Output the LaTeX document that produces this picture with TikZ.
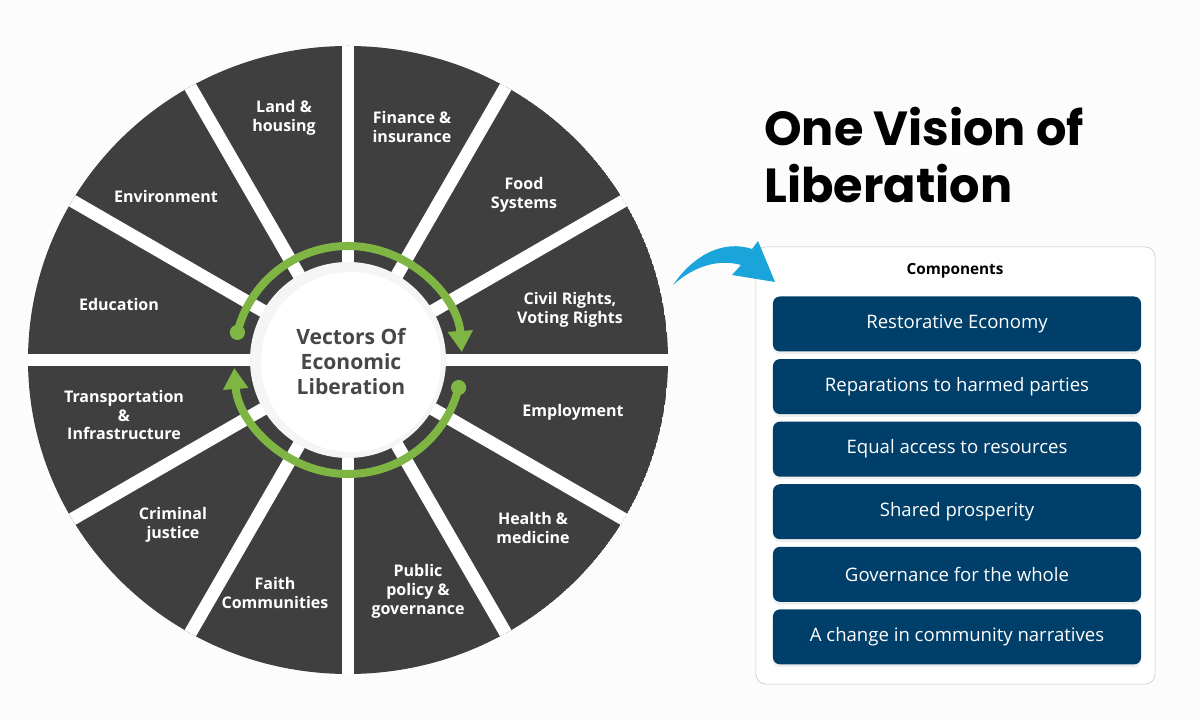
\documentclass[tikz,border=0pt]{standalone}
\usepackage{fontspec}
\setmainfont{Open Sans}
\newfontfamily\headfont{Poppins}
\usepackage{xcolor}
\usepackage{tikz}
\usetikzlibrary{positioning,calc,arrows.meta,shadows}

\definecolor{wheelgrey}{HTML}{3F3F3F}
\definecolor{ringgreen}{HTML}{7FB543}
\definecolor{navy}{HTML}{003F69}
\definecolor{skyblue}{HTML}{19A4DA}
\definecolor{hubtext}{HTML}{474747}

\tikzset{
  spoke/.style={text=white, align=center, font=\bfseries\fontsize{11.4}{13.5}\selectfont},
  comp/.style={fill=navy, text=white, rounded corners=5pt, minimum width=9.2cm, minimum height=1.375cm,
    font=\fontsize{13.2}{15}\selectfont, drop shadow={opacity=0.12, shadow xshift=0pt, shadow yshift=-2pt}},
  loop/.style={ringgreen, line width=5.7pt},
  dot/.style={circle, fill=ringgreen, inner sep=0pt, minimum size=0.38cm},
}

\begin{document}
\begin{tikzpicture}[x=0.025cm,y=0.025cm]
    \fill[white!98!gray] (0,0) rectangle (1200,720);
    \useasboundingbox (0,0) rectangle (1200,720);

    % the wheel
    \coordinate (c) at (348,360);
    \begin{scope}
        \clip (c) ellipse [x radius=320, y radius=314];
        \fill[wheelgrey] (c) ellipse [x radius=320, y radius=314];
        \foreach \a in {0,30,...,330} \draw[white, line width=9.2pt] (c) -- ++(\a:340);
    \end{scope}
    \fill[gray!8] (c) circle (98); % halo
    \node[circle, fill=white, minimum size=4.5cm, align=center, text=hubtext,
          font=\bfseries\fontsize{15}{17.8}\selectfont] (hub) at (351,358) {Vectors Of\\Economic\\Liberation};

    % green loop
    \node[dot] (dotA) at ($(c)+(166:114)$) {};
    \node[dot] (dotB) at ($(c)+(-14:114)$) {};
    \draw[loop, -{Triangle[width=17pt,length=15pt]}] (dotA.center) arc[start angle=166, end angle=4, radius=114];
    \draw[loop, -{Triangle[width=17pt,length=15pt]}] (dotB.center) arc[start angle=-14, end angle=-176, radius=114];

    % segment labels
    \node[spoke] (land) at (284,602) {Land \&\\housing};
    \node[spoke] (finance) at (412,593) {Finance \&\\insurance};
    \node[spoke] (food) at (524,525) {Food\\Systems};
    \node[spoke] (rights) at (570,410) {Civil Rights,\\Voting Rights};
    \node[spoke] (employ) at (573,308) {Employment};
    \node[spoke] (health) at (533,192) {Health \&\\medicine};
    \node[spoke] (policy) at (418,129) {Public\\policy \&\\governance};
    \node[spoke] (faith) at (275,127) {Faith\\Communities};
    \node[spoke] (justice) at (173,195) {Criminal\\justice};
    \node[spoke] (transport) at (124,305) {Transportation\\\&\\Infrastructure};
    \node[spoke] (educ) at (119,416) {Education};
    \node[spoke] (environ) at (166,523) {Environment};

    % title
    \node[anchor=north west, align=left, inner sep=0pt,
          font=\headfont\bfseries\fontsize{34}{40.5}\selectfont] (title) at (764,613) {One Vision of\\Liberation};

    % components panel
    \node[draw=gray!45, fill=white, rounded corners=7pt, minimum width=9.975cm, minimum height=10.925cm] (panel) at (955.5,254.5) {};
    \node[font=\bfseries\fontsize{10.9}{12}\selectfont] (head) at (955,449) {Components};
    \node[comp] (restore) at (957,396) {Restorative Economy};
    \node[comp, below=0.175cm of restore] (repair) {Reparations to harmed parties};
    \node[comp, below=0.175cm of repair] (access) {Equal access to resources};
    \node[comp, below=0.175cm of access] (prosper) {Shared prosperity};
    \node[comp, below=0.175cm of prosper] (govern) {Governance for the whole};
    \node[comp, below=0.175cm of govern] (narrate) {A change in community narratives};

    % blue arrow to the panel
    \fill[skyblue] (673,435) .. controls (695,467) and (725,480) .. (752,471) -- (758,479) -- (775,438)
        -- (732,445) -- (741,455) .. controls (720,461) and (695,455) .. (673,435);
\end{tikzpicture}
\end{document}
